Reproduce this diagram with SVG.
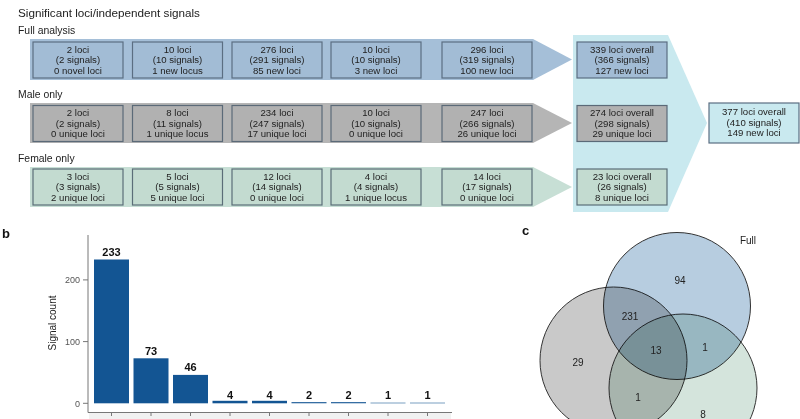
<svg xmlns="http://www.w3.org/2000/svg" width="800" height="419" viewBox="0 0 800 419">
<style>
text{font-family:"Liberation Sans",Arial,sans-serif;fill:#222}
.hd{font-size:11.7px}
.sub{font-size:10.4px}
.bx{font-size:9.6px;text-anchor:middle}
.fb{fill:#a2bcd5;stroke:#5b6e82;stroke-width:1.2}
.mb{fill:#b1b1b1;stroke:#5b6a78;stroke-width:1.2}
.wb{fill:#c3dbd0;stroke:#5b6e78;stroke-width:1.2}
.cb{fill:#c9e9ef;stroke:#5b6e82;stroke-width:1.2}
.bar{fill:#135593}
.ax{stroke:#777;stroke-width:1;fill:none}
.tl{font-size:9px;fill:#555;text-anchor:end}
.bl{font-size:11px;font-weight:bold;text-anchor:middle;fill:#111}
.pl{font-size:13px;font-weight:bold;fill:#111}
.vn{font-size:10px;text-anchor:middle}
.vc{stroke:#333;stroke-width:1;mix-blend-mode:multiply}
</style>

<text class="hd" x="18" y="16.5">Significant loci/independent signals</text>

<g id="connectors">
  <polygon id="cyan-merge" points="573,35 668,35 707,123 668,212 573,212" fill="#c9e9ef"/>
  <polygon id="band-full" points="30,39 533,39 572,59.5 533,80 30,80" fill="#a5bfd8"/>
  <polygon id="band-male" points="30,103 533,103 572,123 533,143 30,143" fill="#b5b5b5"/>
  <polygon id="band-female" points="30,167 533,167 572,187 533,207 30,207" fill="#c7dfd5"/>
</g>

<text class="sub" x="18" y="34">Full analysis</text>
<text class="sub" x="18" y="98">Male only</text>
<text class="sub" x="18" y="162">Female only</text>

<g id="full-1"><rect class="fb" x="33" y="42" width="90" height="36"/><text class="bx" x="78" y="52.5">2 loci</text><text class="bx" x="78" y="63">(2 signals)</text><text class="bx" x="78" y="73.5">0 novel loci</text></g>
<g id="full-2"><rect class="fb" x="132.5" y="42" width="90" height="36"/><text class="bx" x="177.5" y="52.5">10 loci</text><text class="bx" x="177.5" y="63">(10 signals)</text><text class="bx" x="177.5" y="73.5">1 new locus</text></g>
<g id="full-3"><rect class="fb" x="232" y="42" width="90" height="36"/><text class="bx" x="277" y="52.5">276 loci</text><text class="bx" x="277" y="63">(291 signals)</text><text class="bx" x="277" y="73.5">85 new loci</text></g>
<g id="full-4"><rect class="fb" x="331" y="42" width="90" height="36"/><text class="bx" x="376" y="52.5">10 loci</text><text class="bx" x="376" y="63">(10 signals)</text><text class="bx" x="376" y="73.5">3 new loci</text></g>
<g id="full-5"><rect class="fb" x="442" y="42" width="90" height="36"/><text class="bx" x="487" y="52.5">296 loci</text><text class="bx" x="487" y="63">(319 signals)</text><text class="bx" x="487" y="73.5">100 new loci</text></g>
<g id="full-sum"><rect class="fb" x="577" y="42" width="90" height="36"/><text class="bx" x="622" y="52.5">339 loci overall</text><text class="bx" x="622" y="63">(366 signals)</text><text class="bx" x="622" y="73.5">127 new loci</text></g>

<g id="male-1"><rect class="mb" x="33" y="105.5" width="90" height="36"/><text class="bx" x="78" y="116">2 loci</text><text class="bx" x="78" y="126.5">(2 signals)</text><text class="bx" x="78" y="137">0 unique loci</text></g>
<g id="male-2"><rect class="mb" x="132.5" y="105.5" width="90" height="36"/><text class="bx" x="177.5" y="116">8 loci</text><text class="bx" x="177.5" y="126.5">(11 signals)</text><text class="bx" x="177.5" y="137">1 unique locus</text></g>
<g id="male-3"><rect class="mb" x="232" y="105.5" width="90" height="36"/><text class="bx" x="277" y="116">234 loci</text><text class="bx" x="277" y="126.5">(247 signals)</text><text class="bx" x="277" y="137">17 unique loci</text></g>
<g id="male-4"><rect class="mb" x="331" y="105.5" width="90" height="36"/><text class="bx" x="376" y="116">10 loci</text><text class="bx" x="376" y="126.5">(10 signals)</text><text class="bx" x="376" y="137">0 unique loci</text></g>
<g id="male-5"><rect class="mb" x="442" y="105.5" width="90" height="36"/><text class="bx" x="487" y="116">247 loci</text><text class="bx" x="487" y="126.5">(266 signals)</text><text class="bx" x="487" y="137">26 unique loci</text></g>
<g id="male-sum"><rect class="mb" x="577" y="105.5" width="90" height="36"/><text class="bx" x="622" y="116">274 loci overall</text><text class="bx" x="622" y="126.5">(298 signals)</text><text class="bx" x="622" y="137">29 unique loci</text></g>

<g id="female-1"><rect class="wb" x="33" y="169" width="90" height="36"/><text class="bx" x="78" y="179.5">3 loci</text><text class="bx" x="78" y="190">(3 signals)</text><text class="bx" x="78" y="200.5">2 unique loci</text></g>
<g id="female-2"><rect class="wb" x="132.5" y="169" width="90" height="36"/><text class="bx" x="177.5" y="179.5">5 loci</text><text class="bx" x="177.5" y="190">(5 signals)</text><text class="bx" x="177.5" y="200.5">5 unique loci</text></g>
<g id="female-3"><rect class="wb" x="232" y="169" width="90" height="36"/><text class="bx" x="277" y="179.5">12 loci</text><text class="bx" x="277" y="190">(14 signals)</text><text class="bx" x="277" y="200.5">0 unique loci</text></g>
<g id="female-4"><rect class="wb" x="331" y="169" width="90" height="36"/><text class="bx" x="376" y="179.5">4 loci</text><text class="bx" x="376" y="190">(4 signals)</text><text class="bx" x="376" y="200.5">1 unique locus</text></g>
<g id="female-5"><rect class="wb" x="442" y="169" width="90" height="36"/><text class="bx" x="487" y="179.5">14 loci</text><text class="bx" x="487" y="190">(17 signals)</text><text class="bx" x="487" y="200.5">0 unique loci</text></g>
<g id="female-sum"><rect class="wb" x="577" y="169" width="90" height="36"/><text class="bx" x="622" y="179.5">23 loci overall</text><text class="bx" x="622" y="190">(26 signals)</text><text class="bx" x="622" y="200.5">8 unique loci</text></g>

<g id="total"><rect class="cb" x="709" y="103" width="90" height="40"/><text class="bx" x="754" y="115">377 loci overall</text><text class="bx" x="754" y="125.5">(410 signals)</text><text class="bx" x="754" y="136">149 new loci</text></g>

<g id="panel-b">
  <text class="pl" x="2" y="238">b</text>
  <rect x="89" y="413" width="362" height="6" fill="#f1f1f1"/>
  <path class="ax" d="M88,235 V412.5 H452"/>
  <path class="ax" d="M83,403.3 H88 M83,341.6 H88 M83,279.9 H88"/>
  <path class="ax" d="M111.5,413 v3 M151,413 v3 M190.5,413 v3 M230,413 v3 M269.5,413 v3 M309,413 v3 M348.5,413 v3 M388,413 v3 M427.5,413 v3"/>
  <text class="tl" x="80" y="406.5">0</text>
  <text class="tl" x="80" y="344.8">100</text>
  <text class="tl" x="80" y="283.1">200</text>
  <text x="0" y="0" font-size="10" fill="#333" text-anchor="middle" transform="translate(55.5,323) rotate(-90)">Signal count</text>
  <rect class="bar" x="94" y="259.5" width="35" height="143.8"/>
  <rect class="bar" x="133.5" y="358.3" width="35" height="45"/>
  <rect class="bar" x="173" y="374.9" width="35" height="28.4"/>
  <rect class="bar" x="212.5" y="400.8" width="35" height="2.5"/>
  <rect class="bar" x="252" y="400.8" width="35" height="2.5"/>
  <rect class="bar" x="291.5" y="402" width="35" height="1.3" opacity="0.85"/>
  <rect class="bar" x="331" y="402" width="35" height="1.3" opacity="0.85"/>
  <rect class="bar" x="370.5" y="402.6" width="35" height="0.8" opacity="0.7"/>
  <rect class="bar" x="410" y="402.6" width="35" height="0.8" opacity="0.7"/>
  <text class="bl" x="111.5" y="256">233</text>
  <text class="bl" x="151" y="355">73</text>
  <text class="bl" x="190.5" y="371">46</text>
  <text class="bl" x="230" y="398.5">4</text>
  <text class="bl" x="269.5" y="398.5">4</text>
  <text class="bl" x="309" y="398.5">2</text>
  <text class="bl" x="348.5" y="398.5">2</text>
  <text class="bl" x="388" y="398.5">1</text>
  <text class="bl" x="427.5" y="398.5">1</text>
</g>

<g id="panel-c">
  <text class="pl" x="522" y="235">c</text>
  <g style="isolation:isolate">
    <circle id="venn-male" class="vc" cx="613.5" cy="360.5" r="73.5" fill="#c9c9c9"/>
    <circle id="venn-female" class="vc" cx="683" cy="388" r="74" fill="#d4e4dc"/>
    <circle id="venn-full" class="vc" cx="677" cy="306" r="73.5" fill="#b7cde0"/>
  </g>
  <text class="vn" x="748" y="243.5">Full</text>
  <text class="vn" x="680" y="283.5">94</text>
  <text class="vn" x="630" y="319.5">231</text>
  <text class="vn" x="578" y="365.5">29</text>
  <text class="vn" x="656" y="353.5">13</text>
  <text class="vn" x="705" y="350.5">1</text>
  <text class="vn" x="638" y="400.5">1</text>
  <text class="vn" x="703" y="417.5">8</text>
</g>
</svg>
